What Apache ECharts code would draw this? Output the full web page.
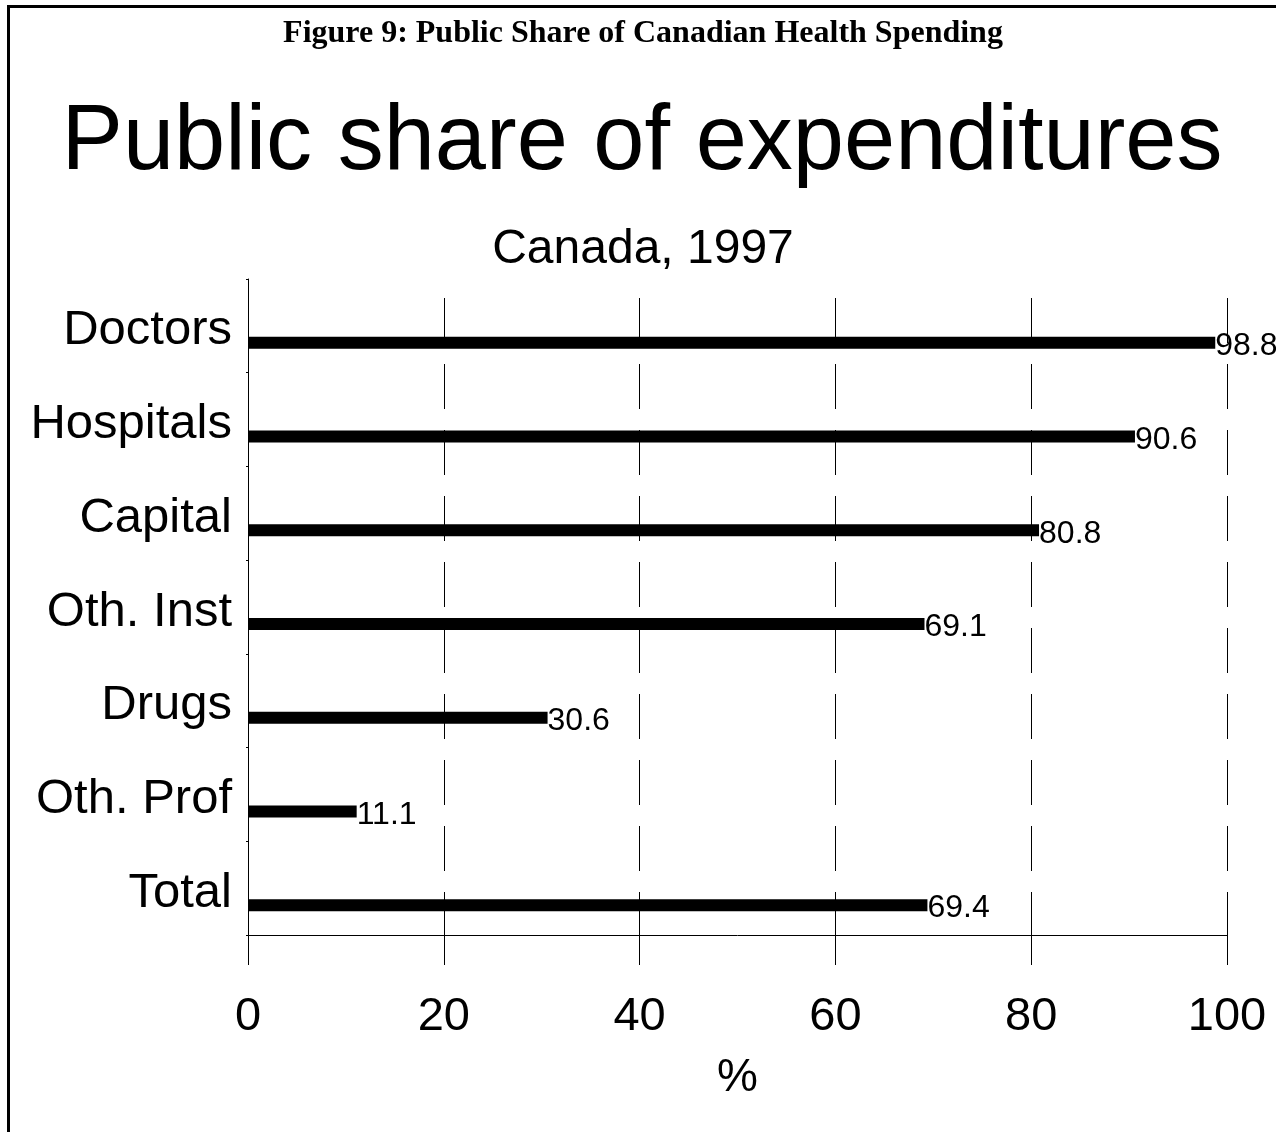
<!DOCTYPE html>
<html>
<head>
<meta charset="utf-8">
<style>
html,body{margin:0;padding:0;background:#fff;}
#chart{width:1276px;height:1132px;}
</style>
<script src="https://cdn.jsdelivr.net/npm/echarts@6/dist/echarts.min.js"></script>
</head>
<body>
<div id="chart"></div>
<script>
const categories = ['Doctors', 'Hospitals', 'Capital', 'Oth. Inst', 'Drugs', 'Oth. Prof', 'Total'];
const publicShare = [98.8, 90.6, 80.8, 69.1, 30.6, 11.1, 69.4];
const xTicks = [0, 20, 40, 60, 80, 100];

const SANS = '"Liberation Sans", Arial, sans-serif';
const chart = echarts.init(document.getElementById('chart'), null, {renderer: 'canvas'});
chart.setOption({
  backgroundColor: '#ffffff',
  animation: false,
  grid: {left: 248, right: 49, top: 279, bottom: 197, containLabel: false},
  graphic: [
    {type: 'rect', shape: {x: 7, y: 5, width: 1269, height: 3}, style: {fill: '#000'}},
    {type: 'rect', shape: {x: 7, y: 5, width: 3, height: 1127}, style: {fill: '#000'}},
    {type: 'text', x: 643, y: 34, style: {text: 'Figure 9: Public Share of Canadian Health Spending', font: 'bold 32px "Liberation Serif", "Times New Roman", serif', fill: '#000', align: 'center', verticalAlign: 'middle'}},
    {type: 'text', x: 642, y: 144, style: {text: 'Public share of expenditures', font: '92px ' + SANS, fill: '#000', align: 'center', verticalAlign: 'middle'}},
    {type: 'text', x: 643, y: 250, style: {text: 'Canada, 1997', font: '48px ' + SANS, fill: '#000', align: 'center', verticalAlign: 'middle'}}
  ],
  xAxis: {
    type: 'value', min: xTicks[0], max: xTicks[xTicks.length - 1], interval: 20,
    name: '%', nameLocation: 'middle', nameGap: 120,
    nameTextStyle: {fontSize: 46, fontFamily: SANS, color: '#000'},
    axisLine: {show: true, lineStyle: {color: '#000', width: 1}},
    axisTick: {show: true, length: 30, lineStyle: {color: '#000', width: 1}},
    axisLabel: {fontSize: 47, fontFamily: SANS, color: '#000', margin: 59},
    splitLine: {show: true, lineStyle: {color: '#000', width: 1, type: [45, 21], dashOffset: 47}}
  },
  yAxis: {
    type: 'category', inverse: true, data: categories,
    axisLine: {show: true, lineStyle: {color: '#000', width: 1}},
    axisTick: {show: true, length: 2, lineStyle: {color: '#000'}},
    axisLabel: {margin: 16, formatter: v => '{a|' + v + '}',
      rich: {a: {fontSize: 49, fontFamily: SANS, color: '#000', padding: [10, 0, 0, 0]}}}
  },
  series: [
    {type: 'bar', data: publicShare, barWidth: 12, barGap: '183.33%', silent: true,
     itemStyle: {color: 'rgba(0,0,0,0)'}, label: {show: false}},
    {type: 'bar', data: publicShare, barWidth: 12, barGap: '183.33%',
     itemStyle: {color: '#000'},
     label: {show: true, position: 'right', distance: 0,
       formatter: p => '{b|' + p.value.toFixed(1) + '}',
       rich: {b: {fontSize: 32, fontFamily: SANS, color: '#000', padding: [7, 0, 0, 0]}}}}
  ]
});
</script>
</body>
</html>
